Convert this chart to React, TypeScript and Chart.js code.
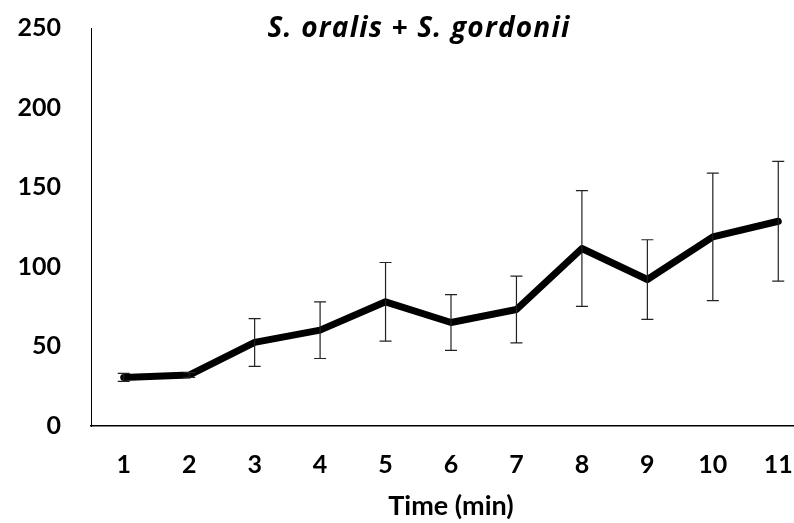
import React, { useEffect, useRef } from "react";
import { Chart, registerables } from "chart.js";

Chart.register(...registerables);

const TITLE = "S. oralis + S. gordonii";
const X_TITLE = "Time (min)";
const categories = ["1", "2", "3", "4", "5", "6", "7", "8", "9", "10", "11"];
const means = [30.5, 32, 52.5, 60.2, 78, 65, 73.2, 111.5, 92, 118.8, 128.6];
const errors = [2.5, 1.5, 15, 17.8, 24.7, 17.5, 21, 36.4, 25, 40, 37.6];
const yTicks = [0, 50, 100, 150, 200, 250];

const FONT = "Lato, 'Open Sans', sans-serif";
const TITLE_FONT = "'Open Sans', Lato, sans-serif";

const errorBarPlugin = {
  id: "errorBars",
  afterDatasetsDraw(chart: any) {
    const xs = chart.scales.x;
    const ys = chart.scales.y;
    const ctx = chart.ctx;
    ctx.save();
    ctx.strokeStyle = "#222";
    ctx.lineWidth = 1.2;
    means.forEach((m, i) => {
      const x = xs.getPixelForValue(i);
      const yt = ys.getPixelForValue(m + errors[i]);
      const yb = ys.getPixelForValue(m - errors[i]);
      ctx.beginPath();
      ctx.moveTo(x, yt);
      ctx.lineTo(x, yb);
      ctx.moveTo(x - 6, yt);
      ctx.lineTo(x + 6, yt);
      ctx.moveTo(x - 6, yb);
      ctx.lineTo(x + 6, yb);
      ctx.stroke();
    });
    ctx.restore();
  },
};

const titlePlugin = {
  id: "customTitle",
  afterDraw(chart: any) {
    const ctx = chart.ctx;
    ctx.save();
    ctx.fillStyle = "#000";
    ctx.font = `italic bold 28px ${TITLE_FONT}`;
    try {
      (ctx as any).letterSpacing = "1.2px";
    } catch (e) {}
    ctx.textAlign = "center";
    ctx.textBaseline = "middle";
    ctx.fillText(TITLE, 419, 29);
    ctx.restore();
  },
};

export default function App() {
  const ref = useRef<HTMLCanvasElement | null>(null);

  useEffect(() => {
    document.documentElement.style.overflow = "hidden";
    document.body.style.overflow = "hidden";
    const canvas = ref.current;
    if (!canvas) return;
    const chart = new Chart(canvas, {
      type: "line",
      data: {
        labels: categories,
        datasets: [
          {
            data: means,
            borderColor: "#000",
            backgroundColor: "#000",
            borderWidth: 7,
            borderCapStyle: "round",
            borderJoinStyle: "round",
            pointRadius: 0,
            tension: 0,
          },
        ],
      },
      options: {
        responsive: false,
        animation: false,
        devicePixelRatio: 1,
        layout: { padding: { left: 0, right: 19, top: 28, bottom: 0 } },
        plugins: {
          legend: { display: false },
          title: { display: false },
          tooltip: { enabled: false },
        },
        scales: {
          x: {
            type: "category",
            offset: true,
            grid: { display: false, drawTicks: false },
            border: { display: true, color: "#000", width: 1.5 },
            ticks: {
              color: "#000",
              padding: 24,
              font: { family: FONT, size: 25, weight: "bold" },
            },
            title: {
              display: true,
              text: X_TITLE,
              color: "#000",
              padding: { top: 0, bottom: 1 },
              font: { family: FONT, size: 27, weight: "bold" },
            },
            afterFit(scale: any) {
              scale.height = 97;
            },
          },
          y: {
            min: 0,
            max: 250,
            grid: { display: false, drawTicks: false },
            border: { display: true, color: "#000", width: 1 },
            afterBuildTicks(scale: any) {
              scale.ticks = yTicks.map((v) => ({ value: v }));
            },
            ticks: {
              color: "#000",
              padding: 30,
              font: { family: FONT, size: 25, weight: "bold" },
            },
            afterFit(scale: any) {
              scale.width = 91;
              scale.paddingTop = 0;
              scale.paddingBottom = 0;
            },
          },
        },
      },
      plugins: [errorBarPlugin, titlePlugin],
    } as any);
    return () => chart.destroy();
  }, []);

  return (
    <div style={{ position: "fixed", left: 0, top: 0, width: 830, height: 523, background: "#fff" }}>
      <canvas ref={ref} width={830} height={523} style={{ display: "block" }} />
    </div>
  );
}
